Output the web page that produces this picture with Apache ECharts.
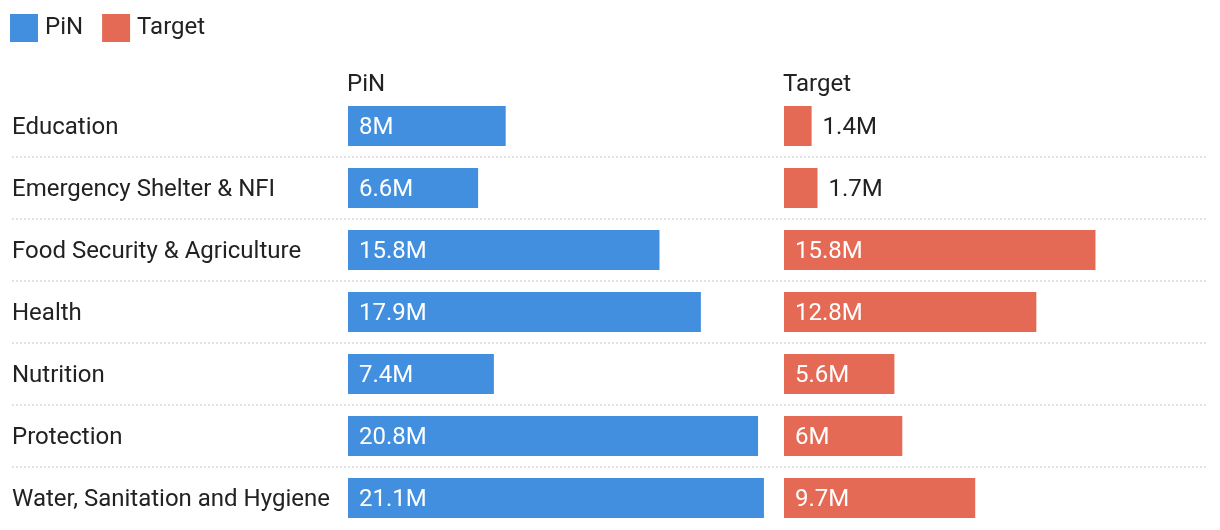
<!DOCTYPE html>
<html><head><meta charset="utf-8">
<script src="https://cdn.jsdelivr.net/npm/echarts@6/dist/echarts.min.js"></script>
<style>html,body{margin:0;padding:0;background:#fff}#c{width:1220px;height:530px}</style>
</head><body><div id="c"></div>
<script>
const categories = ["Education","Emergency Shelter & NFI","Food Security & Agriculture","Health","Nutrition","Protection","Water, Sanitation and Hygiene"];
const pinValues = [8, 6.6, 15.8, 17.9, 7.4, 20.8, 21.1];
const targetValues = [1.4, 1.7, 15.8, 12.8, 5.6, 6, 9.7];
const seriesNames = ["PiN", "Target"];

const FONT = 'Roboto';
const FS = 24;
const TXT = '#222';
const BLUE = '#428fdf';
const RED = '#e56a56';
const TOP = 95, ROWH = 62;
const H = ROWH * categories.length;
const PXW = 433.7; // width for max 22

function items(vals){
  return vals.map(v => ({
    value: v,
    label: v < 3 ? {position:'right', color: TXT, distance: 11} : {position:'insideLeft', color:'#fff', distance: 11}
  }));
}
const chart = echarts.init(document.getElementById('c'), null, {renderer:'canvas'});
chart.setOption({
  animation:false,
  textStyle:{fontFamily:FONT},
  legend:{left:5, top:9, itemWidth:28, itemHeight:28, itemGap:19, icon:'rect',
    textStyle:{fontSize:FS, color:TXT, fontFamily:FONT, padding:[4,0,0,2]},
    data: seriesNames},
  title:[
    {text:seriesNames[0], left:347, top:73, textStyle:{fontSize:FS, fontWeight:'normal', color:TXT, fontFamily:FONT}, padding:0},
    {text:seriesNames[1], left:783, top:73, textStyle:{fontSize:FS, fontWeight:'normal', color:TXT, fontFamily:FONT}, padding:0}
  ],
  grid:[
    {left:12, width:1196, top:TOP, height:H},
    {left:348, width:PXW, top:TOP, height:H},
    {left:784, width:PXW, top:TOP, height:H}
  ],
  xAxis:[
    {gridIndex:0, type:'value', show:false},
    {gridIndex:1, type:'value', min:0, max:22, show:false},
    {gridIndex:2, type:'value', min:0, max:22, show:false}
  ],
  yAxis:[
    {gridIndex:0, type:'category', data:categories, inverse:true,
      axisLine:{show:false}, axisTick:{show:false},
      axisLabel:{inside:true, margin:0, color:TXT,
        formatter: v => '{a|' + v + '}',
        rich:{a:{fontSize:FS, color:TXT, fontFamily:FONT, padding:[4,0,0,0]}}},
      splitLine:{show:true, showMinLine:false, showMaxLine:false, lineStyle:{color:'#d9d9d9', type:[2,2], width:1.5}}},
    {gridIndex:1, type:'category', data:categories, inverse:true, show:false},
    {gridIndex:2, type:'category', data:categories, inverse:true, show:false}
  ],
  series:[
    {name:seriesNames[0], type:'bar', xAxisIndex:1, yAxisIndex:1, data:items(pinValues), barWidth:40,
      itemStyle:{color:BLUE},
      label:{show:true, fontSize:FS, fontFamily:FONT, offset:[0,2], formatter: p => p.value + 'M'}},
    {name:seriesNames[1], type:'bar', xAxisIndex:2, yAxisIndex:2, data:items(targetValues), barWidth:40,
      itemStyle:{color:RED},
      label:{show:true, fontSize:FS, fontFamily:FONT, offset:[0,2], formatter: p => p.value + 'M'}}
  ]
});
</script></body></html>
